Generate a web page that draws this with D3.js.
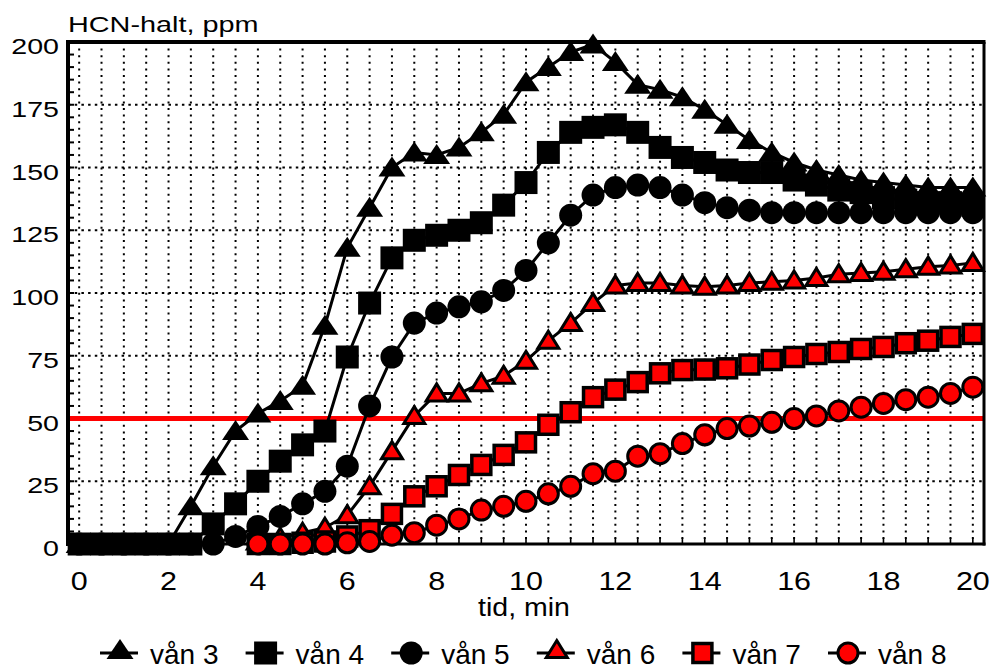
<!DOCTYPE html>
<html><head><meta charset="utf-8">
<script src="https://cdn.jsdelivr.net/npm/d3@7"></script>
<style>html,body{margin:0;padding:0;background:#fff;} svg{display:block;font-family:"Liberation Sans",Arial,sans-serif;}</style>
</head><body><svg id="c" width="994" height="670"></svg>
<script>
// ---- data ----
const times = [0,0.5,1,1.5,2,2.5,3,3.5,4,4.5,5,5.5,6,6.5,7,7.5,8,8.5,9,9.5,10,10.5,11,11.5,12,12.5,13,13.5,14,14.5,15,15.5,16,16.5,17,17.5,18,18.5,19,19.5,20];
const van3 = [0,0,0,0,0,15,31,45,52,57,63,87,118,134,150,156,155,158,164,171,184,190,196,199,192,183,181,178,173,167,161,156,152,149,147,145,144,143,142,142,142];
const van4 = [0,0,0,0,0,0,8,16,25,33,39.5,45,74.5,96,114,121,123,125,128,135,144,156,164,166,167,164,158,154,152,149,148,148,145,143,141,140,138,137,136,136,135];
const van5 = [0,0,0,0,0,0,0,3,7,11,16,21,31,55,74.5,88,92,94.5,96.5,101,109,120,131,139,142,143,142,139,136,134,133,132,132,132,132,132,132,132,132,132,132];
const van6 = [null,null,null,null,null,null,null,null,1,2.5,4.5,6.5,11.5,23,37,51,60,60,64,67,73,81,88,96,103,104,104,103,102.5,103,104,104.5,105,106,107.5,108,108.5,109.5,110.5,111,112];
const van7 = [null,null,null,null,null,null,null,null,0,0,0.5,1,3,5.5,12,19,23,27.5,31.5,35.5,40.5,47.5,52.5,58.5,61.5,64.5,68,69.3,69.5,70,71.5,73.3,74.5,75.7,76.5,77.7,78.5,80,81,82.5,83.7];
const van8 = [null,null,null,null,null,null,null,null,0,0,0,0,0.5,1,3.5,4.5,7.5,10,13.5,15,17,20,23,28,29,35,36,40,43.5,46,47,48.5,50,51,53,54.5,56,57.5,58.5,60,62.5];
const seriesNames = ["vån 3","vån 4","vån 5","vån 6","vån 7","vån 8"];
const seriesValues = [van3, van4, van5, van6, van7, van8];
const yTicks = [0,25,50,75,100,125,150,175,200];
const xTicks = [0,2,4,6,8,10,12,14,16,18,20];
const refLevel = 50;
const yTitle = "HCN-halt, ppm";
const xTitle = "tid, min";

// ---- styles ----
const styles = [
  {shape:"tri", fill:"#000"},
  {shape:"sq", fill:"#000"},
  {shape:"circ", fill:"#000"},
  {shape:"tri", fill:"#ff0000"},
  {shape:"sq", fill:"#ff0000"},
  {shape:"circ", fill:"#ff0000"}
];

const svg = d3.select("#c");
const L = 68, R = 984, T = 42, B = 544;
const x = d3.scaleLinear().domain([-0.25, 20.25]).range([L, R]);
const y = d3.scaleLinear().domain([0, 200]).range([B, T]);

// grid
const grid = svg.append("g");
grid.selectAll("line.v").data(times).join("line")
  .attr("x1", d => x(d)).attr("x2", d => x(d)).attr("y1", T).attr("y2", B)
  .attr("stroke", "#000").attr("stroke-width", 2).attr("stroke-dasharray", "2,4.6");
grid.selectAll("line.h").data(yTicks.filter(d => d > 0 && d < 200)).join("line")
  .attr("x1", L).attr("x2", R).attr("y1", d => y(d)).attr("y2", d => y(d))
  .attr("stroke", "#000").attr("stroke-width", 2).attr("stroke-dasharray", "2.5,4.2");

// minor ticks
svg.append("g").selectAll("line").data(d3.range(0, 201, 5)).join("line")
  .attr("x1", L).attr("x2", L + 6).attr("y1", d => y(d)).attr("y2", d => y(d))
  .attr("stroke", "#000").attr("stroke-width", 2);
svg.append("g").selectAll("line").data(times).join("line")
  .attr("x1", d => x(d)).attr("x2", d => x(d)).attr("y1", B).attr("y2", B - 6)
  .attr("stroke", "#000").attr("stroke-width", 1.6);

// reference line
svg.append("line").attr("x1", L).attr("x2", R).attr("y1", y(refLevel)).attr("y2", y(refLevel))
  .attr("stroke", "#ff0000").attr("stroke-width", 5);

// frame
const fr = svg.append("g").attr("stroke", "#000");
fr.append("line").attr("x1", L).attr("x2", L).attr("y1", T - 2).attr("y2", B + 2).attr("stroke-width", 4);
fr.append("line").attr("x1", L - 2).attr("x2", R + 1.5).attr("y1", T).attr("y2", T).attr("stroke-width", 4);
fr.append("line").attr("x1", R).attr("x2", R).attr("y1", T).attr("y2", B + 1.5).attr("stroke-width", 3);
fr.append("line").attr("x1", L).attr("x2", R + 1.5).attr("y1", B).attr("y2", B).attr("stroke-width", 3);

// marker drawer
function drawMarker(g, st, cx, cy) {
  const red = st.fill !== "#000";
  if (st.shape === "tri") {
    const p = red ? "M0,-9.5L10.5,7.5L-10.5,7.5Z" : "M0,-11L13.5,9L-13.5,9Z";
    g.append("path").attr("d", p).attr("transform", `translate(${cx},${cy})`)
      .attr("fill", st.fill).attr("stroke", red ? "#000" : "none").attr("stroke-width", 3);
  } else if (st.shape === "sq") {
    const s = red ? 19 : 23;
    g.append("rect").attr("x", cx - s/2).attr("y", cy - s/2).attr("width", s).attr("height", s)
      .attr("fill", st.fill).attr("stroke", red ? "#000" : "none").attr("stroke-width", 3.5);
  } else {
    g.append("circle").attr("cx", cx).attr("cy", cy).attr("r", red ? 10 : 11.5)
      .attr("fill", st.fill).attr("stroke", red ? "#000" : "none").attr("stroke-width", 3);
  }
}

// series
const line = d3.line().defined(d => d.v != null).x(d => x(d.t)).y(d => y(d.v));
seriesValues.forEach((vals, i) => {
  const pts = times.map((t, k) => ({t, v: vals[k]}));
  const g = svg.append("g");
  g.append("path").attr("d", line(pts)).attr("fill", "none").attr("stroke", "#000").attr("stroke-width", 3);
  pts.filter(d => d.v != null).forEach(d => drawMarker(g, styles[i], x(d.t), y(d.v)));
});

// tick labels
function stretched(gx, gy, txt, size, sx, anchor) {
  svg.append("text").attr("transform", `translate(${gx},${gy}) scale(${sx},1)`)
    .attr("font-size", size).attr("text-anchor", anchor).attr("fill", "#000").text(txt);
}
yTicks.forEach(v => stretched(59, y(v) + 12, String(v), 22, 1.3, "end"));
xTicks.forEach(t => stretched(x(t), 590, String(t), 25, 1.22, "middle"));
stretched(68, 32, yTitle, 22, 1.31, "start");
stretched(524, 616, xTitle, 25, 1.14, "middle");

// legend
const lg = svg.append("g");
seriesNames.forEach((name, i) => {
  const cx = 120 + i * 145.6, cy = 653;
  lg.append("line").attr("x1", cx - 20).attr("x2", cx + 18).attr("y1", cy).attr("y2", cy)
    .attr("stroke", "#000").attr("stroke-width", 3);
  drawMarker(lg, styles[i], cx, styles[i].shape === "tri" ? cy - 3 : cy);
  lg.append("text").attr("x", cx + 30).attr("y", 664).attr("font-size", 28).attr("fill", "#000").text(name);
});
</script>
</body></html>
